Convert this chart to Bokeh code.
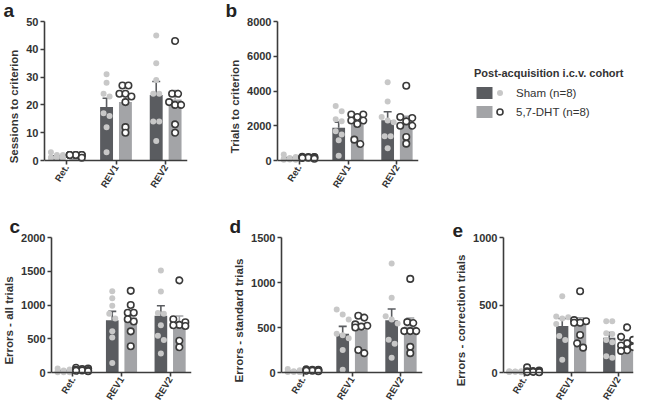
from bokeh.plotting import figure
from bokeh.layouts import row, column
from bokeh.models import (ColumnDataSource, FixedTicker, NumeralTickFormatter, Whisker,
                          TeeHead, Title, Legend, LegendItem, Range1d)
from bokeh.embed import file_html
from bokeh.resources import INLINE

# ---------------- data ----------------
categories = ["Ret.", "REV1", "REV2"]
group_labels = ["Sham (n=8)", "5,7-DHT (n=8)"]
legend_title = "Post-acquisition i.c.v. cohort"

# a: Sessions to criterion
sessions_sham_mean = [1.4, 19.2, 23.6]
sessions_sham_sem = [0.3, 3.2, 4.8]
sessions_dht_mean = [1.9, 21.0, 21.9]
sessions_dht_sem = [0.15, 2.3, 3.3]
sessions_sham_pts = [[3, 2, 2, 1, 1, 1, 1, 1],
                     [31, 28, 24, 23, 17, 16, 12, 3],
                     [45, 35, 29, 24, 24, 14, 14, 7]]
sessions_dht_pts = [[2, 2, 2, 2, 2, 2, 2, 1],
                    [27, 27, 24, 24, 23, 21, 12, 10],
                    [43, 24, 24, 21, 20, 20, 13, 10]]

# b: Trials to criterion
trials_sham_mean = [130, 1880, 2320]
trials_sham_sem = [40, 330, 490]
trials_dht_mean = [170, 2085, 2120]
trials_dht_sem = [15, 265, 420]
trials_sham_pts = [[350, 200, 150, 100, 80, 60, 50, 40],
                   [3130, 2840, 2370, 2260, 1690, 1500, 1160, 280],
                   [4500, 3400, 2500, 2300, 2200, 1400, 1400, 700]]
trials_dht_pts = [[220, 200, 200, 180, 180, 160, 150, 100],
                  [2650, 2650, 2500, 2300, 2300, 2100, 1200, 950],
                  [4300, 2500, 2450, 2250, 2000, 2000, 1350, 970]]

# c: Errors - all trials
all_sham_mean = [20, 775, 840]
all_sham_sem = [8, 130, 150]
all_dht_mean = [42, 815, 730]
all_dht_sem = [7, 87, 108]
all_sham_pts = [[60, 45, 30, 20, 10, 5, 5, 5],
                [1205, 1100, 990, 870, 800, 610, 520, 140],
                [1510, 1200, 880, 870, 700, 545, 480, 280]]
all_dht_pts = [[70, 60, 50, 40, 35, 30, 25, 20],
               [1210, 1000, 885, 885, 790, 755, 610, 390],
               [1365, 790, 745, 705, 700, 690, 470, 375]]

# d: Errors - standard trials
std_sham_mean = [12, 430, 580]
std_sham_sem = [5, 82, 125]
std_dht_mean = [28, 475, 510]
std_dht_sem = [3, 50, 95]
std_sham_pts = [[40, 25, 15, 10, 5, 5, 5, 5],
                [700, 645, 590, 430, 415, 380, 250, 30],
                [1210, 830, 625, 590, 545, 365, 320, 165]]
std_dht_pts = [[35, 30, 30, 25, 25, 20, 20, 15],
               [630, 610, 535, 520, 510, 500, 250, 215],
               [1040, 560, 550, 460, 460, 460, 285, 215]]

# e: Errors - correction trials
corr_sham_mean = [7, 345, 258]
corr_sham_sem = [1.5, 55, 38]
corr_dht_mean = [12, 360, 218]
corr_dht_sem = [4, 45, 22]
corr_sham_pts = [[10, 10, 8, 5, 5, 5, 3, 2],
                 [565, 415, 410, 400, 360, 270, 240, 95],
                 [380, 380, 290, 285, 240, 225, 120, 110]]
corr_dht_pts = [[38, 15, 10, 8, 5, 5, 3, 2],
                [602, 388, 380, 369, 369, 278, 216, 184],
                [334, 264, 242, 216, 200, 188, 165, 160]]

# ---------------- style ----------------
FONT = "Liberation Sans"
TXT = "#333333"
AX = "#3c3c3c"
SHAM_BAR = "#5a5c60"
DHT_BAR = "#a3a4a7"
SHAM_DOT = "#c8c8c8"
DHT_EDGE = "#3a3a3a"
BAR_W = 0.26
OFF = 0.19
X0 = -0.44
DOT_PX = 6.0
BELOW_PX = 31       # room under the zero line for the slanted category labels
# value that this renderer draws as a 45-degree slant for the category labels
LABEL_SLANT = 45.0


def swarm(values, px_y, px_x):
    """Horizontal offsets (data units) so that close points sit side by side."""
    order = sorted(range(len(values)), key=lambda i: -values[i])
    clusters = []
    for i in order:
        if clusters and (values[clusters[-1][-1]] - values[i]) * px_y < DOT_PX - 0.5:
            clusters[-1].append(i)
        else:
            clusters.append([i])
    offs = [0.0] * len(values)
    for c in clusters:
        n = len(c)
        if n <= 3:
            pos = [k - (n - 1) / 2 for k in range(n)]
        else:
            pat = [-1, 1, 0]
            pos = [pat[k % 3] for k in range(n)]
        for i, pp in zip(c, pos):
            offs[i] = pp * DOT_PX / px_x
    return offs


def panel(letter, ylabel, ymax, yticks, sham_mean, sham_sem, dht_mean, dht_sem,
          sham_pts, dht_pts, fw, h_plot, bl, br, bt, bb, xend, lab_off):
    ystart = -ymax * BELOW_PX / h_plot
    p = figure(frame_width=fw, frame_height=h_plot + BELOW_PX,
               x_range=Range1d(X0, xend), y_range=Range1d(ystart, ymax),
               output_backend="svg", toolbar_location=None,
               min_border_left=bl, min_border_right=br, min_border_top=bt,
               min_border_bottom=bb, frame_align=False)
    p.outline_line_color = None
    p.grid.visible = False
    px_x = fw / (xend - X0)
    px_y = h_plot / ymax
    idx = list(range(len(categories)))

    for sign, means, sems, col in ((-1, sham_mean, sham_sem, SHAM_BAR),
                                   (1, dht_mean, dht_sem, DHT_BAR)):
        xs = [i + sign * OFF for i in idx]
        src = ColumnDataSource(dict(x=xs, top=means,
                                    upper=[m + s for m, s in zip(means, sems)]))
        p.vbar(x="x", top="top", bottom=0, width=BAR_W, source=src, fill_color=col,
               line_color=None)
        p.add_layout(Whisker(source=src, base="x", lower="top", upper="upper",
                             dimension="height", line_color=col, line_width=1.6,
                             upper_head=TeeHead(size=8, line_color=col, line_width=1.6),
                             lower_head=None))

    for sign, pts, kind in ((-1, sham_pts, "sham"), (1, dht_pts, "dht")):
        sx, sy = [], []
        for i in idx:
            offs = swarm(pts[i], px_y, px_x)
            for v, o in zip(pts[i], offs):
                sx.append(i + sign * OFF + o)
                sy.append(v)
        if kind == "sham":
            p.scatter(sx, sy, size=6, fill_color=SHAM_DOT, line_color=None)
        else:
            p.scatter(sx, sy, size=6.5, fill_color="white", line_color=DHT_EDGE,
                      line_width=1.6)

    xa = p.xaxis[0]
    ya = p.yaxis[0]
    xa.fixed_location = 0
    xa.ticker = FixedTicker(ticks=idx)
    xa.major_label_overrides = {i: c for i, c in zip(idx, categories)}
    xa.major_label_orientation = LABEL_SLANT
    xa.major_label_text_font_size = "9.5px"
    ya.ticker = FixedTicker(ticks=yticks)
    ya.bounds = (0, ymax)
    ya.formatter = NumeralTickFormatter(format="0")
    ya.axis_label = ylabel
    for ax in (xa, ya):
        ax.axis_line_color = AX
        ax.axis_line_width = 1.6
        ax.major_tick_line_color = AX
        ax.major_tick_line_width = 1.6
        ax.major_tick_out = 4
        ax.major_tick_in = 0
        ax.minor_tick_line_color = None
        ax.major_label_text_font = FONT
        ax.major_label_text_font_style = "bold"
        ax.major_label_text_color = TXT
        ax.major_label_standoff = 2
    xa.major_label_standoff = 1
    ya.major_label_text_font_size = "11px"
    ya.axis_label_text_font = FONT
    ya.axis_label_text_font_size = "11.5px"
    ya.axis_label_text_font_style = "bold"
    ya.axis_label_text_color = TXT
    ya.axis_label_standoff = 3

    p.add_layout(Title(text=letter, align="left", offset=lab_off, standoff=-2,
                       vertical_align="top", text_font=FONT, text_font_size="19px",
                       text_font_style="bold", text_color="#222222"), "above")
    return p


pa = panel("a", "Sessions to criterion", 50, [0, 10, 20, 30, 40, 50],
           sessions_sham_mean, sessions_sham_sem, sessions_dht_mean, sessions_dht_sem,
           sessions_sham_pts, sessions_dht_pts,
           143, 139, 44, 35, 21, 25, 2.44, -41)
pb = panel("b", "Trials to criterion", 8000, [0, 2000, 4000, 6000, 8000],
           trials_sham_mean, trials_sham_sem, trials_dht_mean, trials_dht_sem,
           trials_sham_pts, trials_dht_pts,
           141, 139, 55, 10, 21, 25, 2.44, -52)
pc = panel("c", "Errors - all trials", 2000, [0, 500, 1000, 1500, 2000],
           all_sham_mean, all_sham_sem, all_dht_mean, all_dht_sem,
           all_sham_pts, all_dht_pts,
           140, 135, 47, 35, 21, 0, 2.44, -42)
pd_ = panel("d", "Errors - standard trials", 1500, [0, 500, 1000, 1500],
            std_sham_mean, std_sham_sem, std_dht_mean, std_dht_sem,
            std_sham_pts, std_dht_pts,
            141, 135, 55, 28, 21, 0, 2.44, -52)
pe = panel("e", "Errors - correction trials", 1000, [0, 500, 1000],
           corr_sham_mean, corr_sham_sem, corr_dht_mean, corr_dht_sem,
           corr_sham_pts, corr_dht_pts,
           130, 135, 53, 1, 21, 0, 2.326, -51)

# ---------------- legend ----------------
nan = float("nan")
fl = figure(frame_width=156, frame_height=149, x_axis_type=None, y_axis_type=None,
            x_range=Range1d(0, 1), y_range=Range1d(0, 1), output_backend="svg",
            toolbar_location=None, min_border_left=46, min_border_top=67,
            min_border_right=0, min_border_bottom=0, frame_align=False)
fl.outline_line_color = None
dummy = ColumnDataSource(dict(x=[nan], y=[nan]))
rb1 = fl.vbar(x="x", top="y", width=0.1, source=dummy, fill_color=SHAM_BAR, line_color=None)
rb2 = fl.vbar(x="x", top="y", width=0.1, source=dummy, fill_color=DHT_BAR, line_color=None)
rd1 = fl.scatter(x="x", y="y", source=dummy, size=6, fill_color=SHAM_DOT, line_color=None)
rd2 = fl.scatter(x="x", y="y", source=dummy, size=6, fill_color="white",
                 line_color=DHT_EDGE, line_width=1.6)
L1 = Legend(items=[LegendItem(label=group_labels[0], renderers=[rb1]),
                   LegendItem(label=group_labels[1], renderers=[rb2])],
            title=legend_title, location="top_left", margin=0, padding=0, spacing=4,
            glyph_width=20, glyph_height=15, label_height=15, label_standoff=22,
            title_standoff=6, border_line_color=None, background_fill_alpha=0)
L1.title_text_font = FONT
L1.title_text_font_size = "11px"
L1.title_text_font_style = "bold"
L1.title_text_color = TXT
L1.label_text_font = FONT
L1.label_text_font_size = "11.5px"
L1.label_text_color = TXT
L2 = Legend(items=[LegendItem(label=" ", renderers=[rd1]),
                   LegendItem(label=" ", renderers=[rd2])],
            location=(18, 97), margin=0, padding=0, spacing=4,
            glyph_width=15, glyph_height=15, label_height=15, label_width=0,
            label_standoff=0, border_line_color=None, background_fill_alpha=0)
L2.label_text_font = FONT
L2.label_text_font_size = "11.5px"
fl.add_layout(L1)
fl.add_layout(L2)

layout = column(row(pa, pb, fl), row(pc, pd_, pe))
open("out.html", "w").write(file_html(layout, INLINE))
